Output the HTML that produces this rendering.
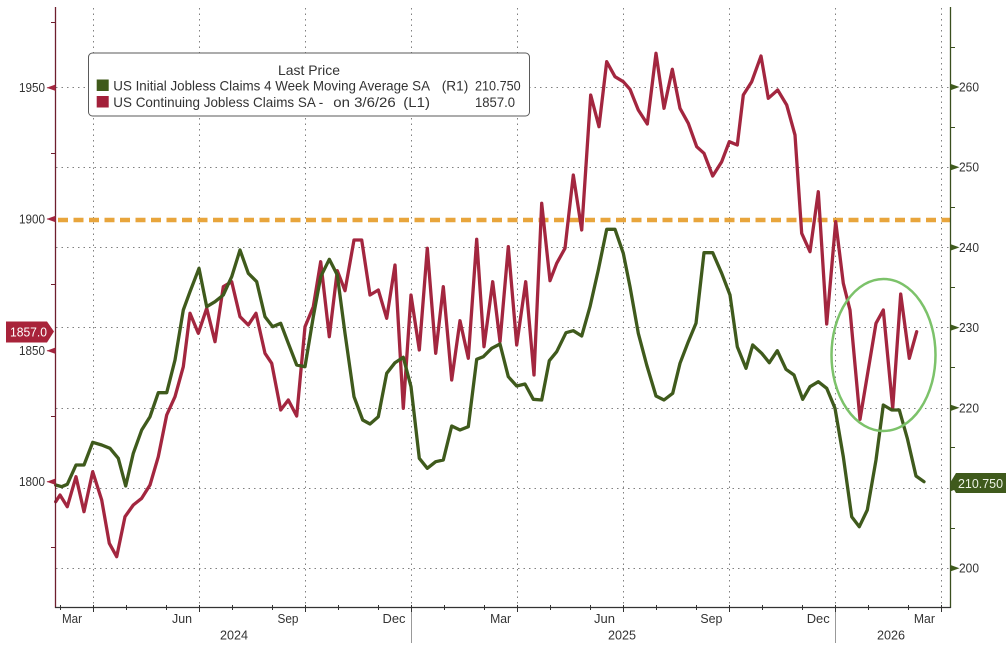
<!DOCTYPE html>
<html><head><meta charset="utf-8"><style>
html,body{margin:0;padding:0;background:#fff;width:1008px;height:658px;overflow:hidden}
svg{display:block}
text{font-family:"Liberation Sans","DejaVu Sans",sans-serif;fill:#333}
</style></head><body>
<svg width="1008" height="658" viewBox="0 0 1008 658" xmlns="http://www.w3.org/2000/svg">
<rect width="1008" height="658" fill="#fff"/>
<g stroke="#808080" stroke-width="1" stroke-dasharray="1.5,4" fill="none">
<line x1="56" y1="87.5" x2="950" y2="87.5"/>
<line x1="56" y1="167.5" x2="950" y2="167.5"/>
<line x1="56" y1="247.5" x2="950" y2="247.5"/>
<line x1="56" y1="327.5" x2="950" y2="327.5"/>
<line x1="56" y1="408.5" x2="950" y2="408.5"/>
<line x1="56" y1="488.5" x2="950" y2="488.5"/>
<line x1="56" y1="568.5" x2="950" y2="568.5"/>
<line x1="93.5" y1="8" x2="93.5" y2="607"/>
<line x1="199.5" y1="8" x2="199.5" y2="607"/>
<line x1="305.5" y1="8" x2="305.5" y2="607"/>
<line x1="411.5" y1="8" x2="411.5" y2="607"/>
<line x1="517.5" y1="8" x2="517.5" y2="607"/>
<line x1="623.5" y1="8" x2="623.5" y2="607"/>
<line x1="729.5" y1="8" x2="729.5" y2="607"/>
<line x1="835.5" y1="8" x2="835.5" y2="607"/>
<line x1="941.5" y1="8" x2="941.5" y2="607"/>
</g>
<line x1="56" y1="220" x2="950" y2="220" stroke="#e8a53c" stroke-width="4.5" stroke-dasharray="10,5.5" stroke-dashoffset="-2"/>
<polyline fill="none" stroke="#a3263f" stroke-width="3.3" stroke-linejoin="round" stroke-linecap="round" points="55.7,501.7 60,495 67.3,506.7 76,476.7 84,511.7 92.7,471.7 101.7,500 109.3,543.3 116.7,556.7 125,516.7 133.3,505 141.7,498.3 150,485 158.3,456.7 166.7,415 175,396.7 183.3,366.7 190,313.3 198.3,333.3 206.7,308.3 215,341.7 223.3,286.7 231.7,281.7 240,316.7 248.3,325 256,313.3 265,353.3 271.7,363.3 280.7,410 288.3,400 296.7,416 305,326.7 313.3,306.7 320.7,261.7 329.3,336.7 337.3,270.7 345,290.7 354,240 361.7,240 370,295 378.3,290 386.7,318.3 395,265 403.3,408.3 411,295 419.3,350 427.3,248.3 435.7,353.3 443.3,286.7 451.7,380 460,320.7 468.3,358.3 476.7,239.3 484,346.7 492.7,281.7 500,341.7 508.3,246.7 516.7,345 525.7,281.7 534,375 541.7,203.3 550,280.7 556.7,263.3 565,248.3 573.3,175 581.7,230 590.7,95 599,126.7 606.7,61.7 615,76.7 623.3,81.7 630,89.3 638.3,110 647.3,124 656,53.3 664,108.3 672.3,69.3 680,108.3 688.3,123.3 696.7,146.7 704,153.3 712.7,176 721.7,161.7 729.3,141.7 737.3,145 743.3,95 751.7,81.7 761,56 768.3,98.3 777.7,90 786.7,105 795,135 801.7,233.3 810,251.7 818.3,191.7 826.7,324 835.7,221.7 843.3,283.3 850,310 860,419.3 876,323.3 883.3,310 892.7,408.3 900.7,294 909.3,358.3 916.7,331.7"/>
<polyline fill="none" stroke="#3f5a1c" stroke-width="3.3" stroke-linejoin="round" stroke-linecap="round" points="55.7,485 61.7,486.7 67.3,484.3 76,465 84,465 92.7,442.3 101.7,445 110,448.3 118.3,458.3 125.7,486 133.3,453.3 141.7,430 150,416.7 158.3,392.7 166.7,392.7 175,360 183.3,310 190,291.7 199,268.3 206.7,306.7 215,301.7 223.3,295 231.7,276.7 240,250 248.3,273.3 256.7,281.7 265,316.7 272.7,326.7 280.7,323.3 288.3,343.3 296.7,365 305,366.7 313.3,316.7 320.7,276.7 329.3,259.3 337.3,275 345,333.3 354,396.7 362.7,420 370,424 378.3,416.7 386.7,373.3 395,362.7 403.3,357.3 411,386.7 419.3,458.3 427.3,468.3 435.7,461.7 443.3,460 451.7,426 460,430 468.3,426.7 476.7,359.3 483.3,356.7 491.7,348.3 500,344 508.3,376.7 516.7,386 525,384 533.3,399.3 541.7,400 549.3,360.7 556.7,351.7 566,332.7 573.3,330.7 581.7,336 590,306.7 598.3,270 606.7,229.3 615,229.3 623.3,253.3 630,286.7 638.3,333.3 646.7,365 656,396 664,400 672.7,393.3 680,363.3 688.3,341.7 696,323.3 704,252.7 712.7,252.7 721.7,273.3 730,295 737.3,346.7 746,368.3 752.7,345 761.7,353.3 769.3,362.7 777.3,350.7 786,369.3 794,375 802.7,399.3 810,386.7 818.3,381.7 826.7,388.3 835,408.3 843.3,456.7 851.7,516.7 859.3,526.7 867.3,510 876,460 883.3,405 891.7,410 899.3,410 907.3,438.3 916,476 924,481.7"/>
<ellipse cx="883.5" cy="355" rx="52" ry="76" fill="none" stroke="#7cc26a" stroke-width="2.5"/>
<line x1="55.5" y1="7" x2="55.5" y2="608" stroke="#6e1f2e" stroke-width="1.3"/>
<line x1="950.5" y1="7" x2="950.5" y2="608" stroke="#3a4f1e" stroke-width="1.3"/>
<line x1="55" y1="607.5" x2="951" y2="607.5" stroke="#333" stroke-width="1.3"/>
<g stroke="#333" stroke-width="1">
<line x1="93.5" y1="605" x2="93.5" y2="612"/><line x1="199.5" y1="605" x2="199.5" y2="612"/><line x1="305.5" y1="605" x2="305.5" y2="612"/><line x1="411.5" y1="605" x2="411.5" y2="612"/><line x1="517.5" y1="605" x2="517.5" y2="612"/><line x1="623.5" y1="605" x2="623.5" y2="612"/><line x1="729.5" y1="605" x2="729.5" y2="612"/><line x1="835.5" y1="605" x2="835.5" y2="612"/><line x1="941.5" y1="605" x2="941.5" y2="612"/>
<line x1="60.5" y1="605" x2="60.5" y2="610"/>
<line x1="126.5" y1="605" x2="126.5" y2="610"/><line x1="166.5" y1="605" x2="166.5" y2="610"/>
<line x1="232.5" y1="605" x2="232.5" y2="610"/><line x1="272.5" y1="605" x2="272.5" y2="610"/>
<line x1="338.5" y1="605" x2="338.5" y2="610"/><line x1="378.5" y1="605" x2="378.5" y2="610"/>
<line x1="444.5" y1="605" x2="444.5" y2="610"/><line x1="484.5" y1="605" x2="484.5" y2="610"/>
<line x1="550.5" y1="605" x2="550.5" y2="610"/><line x1="590.5" y1="605" x2="590.5" y2="610"/>
<line x1="656.5" y1="605" x2="656.5" y2="610"/><line x1="696.5" y1="605" x2="696.5" y2="610"/>
<line x1="762.5" y1="605" x2="762.5" y2="610"/><line x1="802.5" y1="605" x2="802.5" y2="610"/>
<line x1="868.5" y1="605" x2="868.5" y2="610"/><line x1="908.5" y1="605" x2="908.5" y2="610"/>
</g>
<g stroke="#999" stroke-width="1">
<line x1="411.5" y1="612" x2="411.5" y2="643"/>
<line x1="835.5" y1="612" x2="835.5" y2="643"/>
</g>
<g font-size="13" text-anchor="middle">
<text x="72" y="623" textLength="20" lengthAdjust="spacingAndGlyphs">Mar</text>
<text x="182" y="623" textLength="20" lengthAdjust="spacingAndGlyphs">Jun</text>
<text x="288" y="623" textLength="21" lengthAdjust="spacingAndGlyphs">Sep</text>
<text x="394" y="623" textLength="23" lengthAdjust="spacingAndGlyphs">Dec</text>
<text x="500.6" y="623" textLength="21" lengthAdjust="spacingAndGlyphs">Mar</text>
<text x="604.5" y="623" textLength="21" lengthAdjust="spacingAndGlyphs">Jun</text>
<text x="711.4" y="623" textLength="22" lengthAdjust="spacingAndGlyphs">Sep</text>
<text x="818.2" y="623" textLength="23" lengthAdjust="spacingAndGlyphs">Dec</text>
<text x="924.4" y="623" textLength="21" lengthAdjust="spacingAndGlyphs">Mar</text>
<text x="234" y="639.5" textLength="28" lengthAdjust="spacingAndGlyphs">2024</text>
<text x="622" y="639.5" textLength="28" lengthAdjust="spacingAndGlyphs">2025</text>
<text x="891" y="639.5" textLength="28" lengthAdjust="spacingAndGlyphs">2026</text>
</g>
<g fill="#a3263f" stroke="#a3263f" stroke-width="1">
<path d="M55,87.7 L47,87.7 M55,85.2 L48,87.7 L55,90.2 Z"/>
<path d="M55,219 L47,219 M55,216.5 L48,219 L55,221.5 Z"/>
<path d="M55,350.7 L47,350.7 M55,348.2 L48,350.7 L55,353.2 Z"/>
<path d="M55,481.7 L47,481.7 M55,479.2 L48,481.7 L55,484.2 Z"/>
</g>
<g stroke="#6e1f2e" stroke-width="1">
<line x1="51" y1="22.5" x2="55" y2="22.5"/><line x1="51" y1="153.5" x2="55" y2="153.5"/><line x1="51" y1="284.5" x2="55" y2="284.5"/><line x1="51" y1="416.5" x2="55" y2="416.5"/><line x1="51" y1="547.5" x2="55" y2="547.5"/>
</g>
<g font-size="13" text-anchor="end">
<text x="45" y="92.2" textLength="26" lengthAdjust="spacingAndGlyphs">1950</text>
<text x="45" y="223.5" textLength="26" lengthAdjust="spacingAndGlyphs">1900</text>
<text x="45" y="355.2" textLength="26" lengthAdjust="spacingAndGlyphs">1850</text>
<text x="45" y="486.2" textLength="26" lengthAdjust="spacingAndGlyphs">1800</text>
</g>
<g fill="#3f5a1c" stroke="#3f5a1c" stroke-width="1">
<path d="M951,87 L958,87 M951,84.5 L958,87 L951,89.5 Z"/>
<path d="M951,167.2 L958,167.2 M951,164.7 L958,167.2 L951,169.7 Z"/>
<path d="M951,247.4 L958,247.4 M951,244.9 L958,247.4 L951,249.9 Z"/>
<path d="M951,327.6 L958,327.6 M951,325.1 L958,327.6 L951,330.1 Z"/>
<path d="M951,407.8 L958,407.8 M951,405.3 L958,407.8 L951,410.3 Z"/>
<path d="M951,488 L958,488 M951,485.5 L958,488 L951,490.5 Z"/>
<path d="M951,568.2 L958,568.2 M951,565.7 L958,568.2 L951,570.7 Z"/>
</g>
<g stroke="#3a4f1e" stroke-width="1">
<line x1="950" y1="47.5" x2="955" y2="47.5"/><line x1="950" y1="127.5" x2="955" y2="127.5"/><line x1="950" y1="207.5" x2="955" y2="207.5"/><line x1="950" y1="287.5" x2="955" y2="287.5"/><line x1="950" y1="367.5" x2="955" y2="367.5"/><line x1="950" y1="447.5" x2="955" y2="447.5"/><line x1="950" y1="528.5" x2="955" y2="528.5"/>
</g>
<g font-size="13">
<text x="959" y="91.5" textLength="20" lengthAdjust="spacingAndGlyphs">260</text>
<text x="959" y="171.7" textLength="20" lengthAdjust="spacingAndGlyphs">250</text>
<text x="959" y="251.9" textLength="20" lengthAdjust="spacingAndGlyphs">240</text>
<text x="959" y="332.1" textLength="20" lengthAdjust="spacingAndGlyphs">230</text>
<text x="959" y="412.3" textLength="20" lengthAdjust="spacingAndGlyphs">220</text>
<text x="959" y="492.5" textLength="20" lengthAdjust="spacingAndGlyphs">210</text>
<text x="959" y="572.7" textLength="20" lengthAdjust="spacingAndGlyphs">200</text>
</g>
<path d="M6,321.5 L47,321.5 L54,331.5 L47,342.5 L6,342.5 Z" fill="#a8233a"/>
<text x="10" y="336.5" font-size="12.5" textLength="37" lengthAdjust="spacingAndGlyphs" style="fill:#fff">1857.0</text>
<path d="M950,483 L956,473 L1006,473 L1006,493 L956,493 Z" fill="#3f5a1c"/>
<text x="958" y="487.8" font-size="12.5" textLength="45" lengthAdjust="spacingAndGlyphs" style="fill:#eef3e6">210.750</text>
<rect x="88.5" y="53" width="441" height="63" rx="4" ry="4" fill="#fff" stroke="#5a5a5a" stroke-width="1"/>
<g font-size="14" style="fill:#222">
<text x="309" y="75" text-anchor="middle" textLength="62" lengthAdjust="spacingAndGlyphs">Last Price</text>
<text x="113.3" y="90.5" textLength="316.7" lengthAdjust="spacingAndGlyphs">US Initial Jobless Claims 4 Week Moving Average SA</text>
<text x="441.7" y="90.5" textLength="26.6" lengthAdjust="spacingAndGlyphs">(R1)</text>
<text x="475" y="90.5" textLength="45.7" lengthAdjust="spacingAndGlyphs">210.750</text>
<text x="113.3" y="106.8" textLength="210" lengthAdjust="spacingAndGlyphs">US Continuing Jobless Claims SA -</text>
<text x="333.3" y="106.8" textLength="62.4" lengthAdjust="spacingAndGlyphs">on 3/6/26</text>
<text x="403.3" y="106.8" textLength="26.7" lengthAdjust="spacingAndGlyphs">(L1)</text>
<text x="475" y="106.8" textLength="40" lengthAdjust="spacingAndGlyphs">1857.0</text>
</g>
<rect x="96.7" y="79.5" width="12" height="11.5" fill="#3f5a1a"/>
<rect x="96.7" y="96" width="12" height="11.5" fill="#a3203a"/>
</svg>
</body></html>
